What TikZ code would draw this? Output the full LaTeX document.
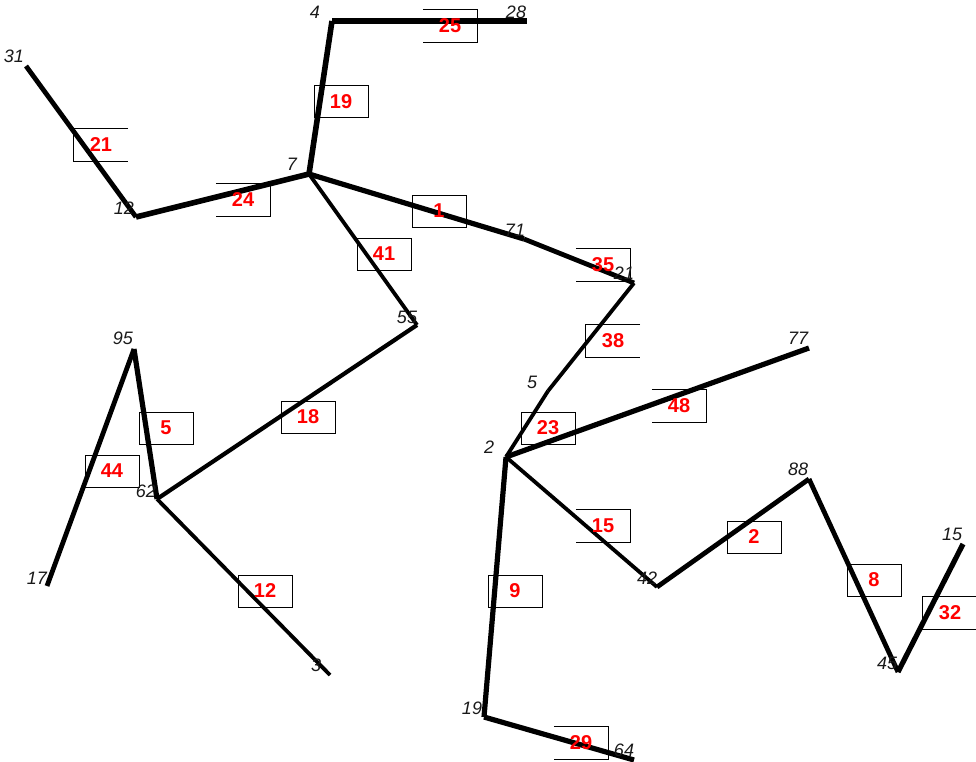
\documentclass[tikz,border=0pt]{standalone}
\usepackage{fontspec}
\setmainfont{Liberation Sans}
\begin{document}
\begin{tikzpicture}[x=1pt,y=-1pt,
  vlab/.style={font=\fontsize{18}{18}\selectfont\itshape, text=black!90, inner sep=0pt},
  elab/.style={inner sep=0pt, minimum width=54pt, minimum height=32pt},
  ebox/.style={elab, draw=black, line width=1pt},
  rtxt/.style={font=\fontsize{20}{20}\selectfont\bfseries, text=red, inner sep=0pt},
  side/.style={draw=black, line width=1pt},
  edge/.style={draw=black, line cap=butt}]
\useasboundingbox (0,0) rectangle (976,762);
% vertices
\coordinate (n31) at (26,66);
\coordinate (n12) at (136,217);
\coordinate (n7) at (309,174);
\coordinate (n4) at (332,21);
\coordinate (n28) at (527,21);
\coordinate (n71) at (524,239);
\coordinate (n21) at (634,283);
\coordinate (n55) at (417,325);
\coordinate (n95) at (134,349);
\coordinate (n62) at (157,499);
\coordinate (n17) at (47,586);
\coordinate (n3) at (330,675);
\coordinate (n5) at (548,391);
\coordinate (n2) at (506,457);
\coordinate (n77) at (809,348);
\coordinate (n42) at (657,587);
\coordinate (n88) at (809,479);
\coordinate (n45) at (898,672);
\coordinate (n15) at (963,544);
\coordinate (n19) at (484,717);
\coordinate (n64) at (634,760);
% edge label boxes
\node[elab] (e21) at (101,145) {};
\node[elab] (e24) at (243,200) {};
\node[ebox] (e19) at (341,102) {};
\node[elab] (e25) at (450,26) {};
\node[ebox] (e1) at (439,211) {};
\node[ebox] (e41) at (384,254) {};
\node[elab] (e35) at (603,265) {};
\node[elab] (e38) at (613,341) {};
\node[ebox] (e18) at (308,417) {};
\node[ebox] (e5) at (166,428) {};
\node[ebox] (e44) at (112,471) {};
\node[ebox] (e12) at (265,591) {};
\node[ebox] (e23) at (548,428) {};
\node[elab] (e48) at (679,406) {};
\node[elab] (e15) at (603,526) {};
\node[ebox] (e9) at (515,591) {};
\node[ebox] (e2) at (754,537) {};
\node[ebox] (e8) at (874,580) {};
\node[elab] (e32) at (950,613) {};
\node[elab] (e29) at (581,743) {};
% partial box sides
\foreach \b in {e21,e38,e32}
  \draw[side] (\b.north east) -- (\b.north west) -- (\b.south west) -- (\b.south east);
\foreach \b in {e24,e25,e35,e48,e15,e29}
  \draw[side] (\b.north west) -- (\b.north east) -- (\b.south east) -- (\b.south west);
% edges
\draw[edge, line width=4.8pt] (n31) -- (n12);
\draw[edge, line width=5.6pt] (n12) -- (n7);
\draw[edge, line width=5.6pt] (n7) -- (n4);
\draw[edge, line width=5.6pt] (n4) -- (n28);
\draw[edge, line width=5.2pt] (n7) -- (n71);
\draw[edge, line width=4.8pt] (n71) -- (n21);
\draw[edge, line width=3.8pt] (n7) -- (n55);
\draw[edge, line width=4.2pt] (n55) -- (n62);
\draw[edge, line width=5.2pt] (n62) -- (n95);
\draw[edge, line width=4.8pt] (n95) -- (n17);
\draw[edge, line width=3.8pt] (n62) -- (n3);
\draw[edge, line width=3.8pt] (n21) -- (n5);
\draw[edge, line width=3.8pt] (n5) -- (n2);
\draw[edge, line width=5.2pt] (n2) -- (n77);
\draw[edge, line width=3.8pt] (n2) -- (n42);
\draw[edge, line width=4.8pt] (n42) -- (n88);
\draw[edge, line width=4.8pt] (n88) -- (n45);
\draw[edge, line width=5.2pt] (n45) -- (n15);
\draw[edge, line width=5.2pt] (n2) -- (n19);
\draw[edge, line width=5.2pt] (n19) -- (n64);
% red labels on top
\foreach \b/\t in {e21/21,e24/24,e19/19,e25/25,e1/1,e41/41,e35/35,e38/38,e18/18,e5/5,e44/44,e12/12,e23/23,e48/48,e15/15,e9/9,e2/2,e8/8,e32/32,e29/29}
  \node[rtxt] at (\b.center) {\t};
% vertex labels
\node[vlab] (t31) at (14,56) {31};
\node[vlab] (t12) at (124,208) {12};
\node[vlab] (t7) at (292,164) {7};
\node[vlab] (t4) at (315,12) {4};
\node[vlab] (t28) at (516,12) {28};
\node[vlab] (t71) at (515,230) {71};
\node[vlab] (t21) at (624,273) {21};
\node[vlab] (t55) at (407,317) {55};
\node[vlab] (t95) at (123,338) {95};
\node[vlab] (t62) at (146,491) {62};
\node[vlab] (t17) at (37,578) {17};
\node[vlab] (t3) at (316,665) {3};
\node[vlab] (t5) at (532,382) {5};
\node[vlab] (t2) at (489,447) {2};
\node[vlab] (t77) at (798,338) {77};
\node[vlab] (t42) at (647,578) {42};
\node[vlab] (t88) at (798,469) {88};
\node[vlab] (t45) at (887,663) {45};
\node[vlab] (t15) at (952,534) {15};
\node[vlab] (t19) at (472,708) {19};
\node[vlab] (t64) at (624,750) {64};
\end{tikzpicture}
\end{document}
